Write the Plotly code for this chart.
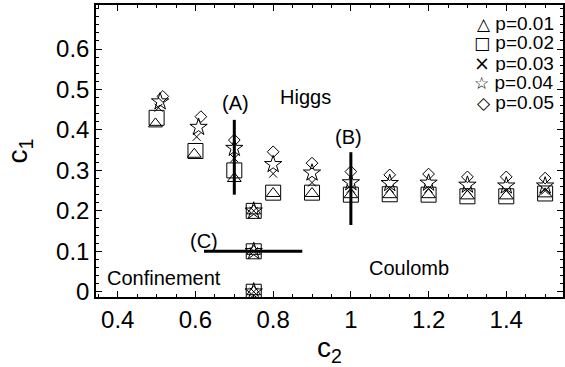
import plotly.graph_objects as go

# ---- data ----
p_labels = ["p=0.01", "p=0.02", "p=0.03", "p=0.04", "p=0.05"]
legend_glyphs = ["\u25B3", "\u25A1", "\u00D7", "\u2606", "\u25C7"]
legend_glyph_px = [17, 17, 19, 17, 17]
legend_glyph_font = ["DejaVu Sans", "DejaVu Sans", "DejaVu Sans ExtraLight, DejaVu Sans", "DejaVu Sans", "DejaVu Sans"]

c2_p01 = [0.497, 0.597, 0.70, 0.75, 0.75, 0.75, 0.80, 0.90, 1.00, 1.10, 1.20, 1.30, 1.40, 1.50]
c1_p01 = [0.415, 0.340, 0.280, 0.200, 0.100, 0.000, 0.243, 0.243, 0.240, 0.240, 0.240, 0.237, 0.237, 0.242]

c2_p02 = [0.500, 0.600, 0.70, 0.75, 0.75, 0.75, 0.80, 0.90, 1.00, 1.10, 1.20, 1.30, 1.40, 1.50]
c1_p02 = [0.430, 0.348, 0.300, 0.200, 0.100, 0.000, 0.245, 0.245, 0.240, 0.241, 0.240, 0.236, 0.236, 0.243]

c2_p03 = [0.505, 0.603, 0.70, 0.75, 0.75, 0.75, 0.80, 0.90, 1.00, 1.10, 1.20, 1.30, 1.40, 1.50]
c1_p03 = [0.455, 0.383, 0.330, 0.200, 0.100, 0.000, 0.292, 0.270, 0.255, 0.255, 0.255, 0.250, 0.250, 0.250]

c2_p04 = [0.509, 0.608, 0.70, 0.75, 0.75, 0.75, 0.80, 0.90, 1.00, 1.10, 1.20, 1.30, 1.40, 1.50]
c1_p04 = [0.470, 0.407, 0.355, 0.200, 0.100, 0.000, 0.315, 0.294, 0.270, 0.268, 0.269, 0.264, 0.262, 0.262]

c2_p05 = [0.516, 0.614, 0.70, 0.80, 0.90, 1.00, 1.10, 1.20, 1.30, 1.40, 1.50]
c1_p05 = [0.483, 0.433, 0.375, 0.346, 0.318, 0.297, 0.289, 0.291, 0.284, 0.284, 0.281]

# cut lines (A), (B), (C)
lineA_c2 = [0.70, 0.70]
lineA_c1 = [0.240, 0.425]
lineB_c2 = [1.00, 1.00]
lineB_c1 = [0.165, 0.345]
lineC_c2 = [0.622, 0.875]
lineC_c1 = [0.100, 0.100]

# region / cut labels
label_text = ["(A)", "Higgs", "(B)", "(C)", "Confinement", "Coulomb"]
label_c2 = [0.703, 0.884, 0.995, 0.623, 0.518, 1.149]
label_c1 = [0.467, 0.481, 0.383, 0.126, 0.035, 0.059]

x_ticks = [0.4, 0.6, 0.8, 1.0, 1.2, 1.4]
x_tick_text = ["0.4", "0.6", "0.8", "1", "1.2", "1.4"]
y_ticks = [0, 0.1, 0.2, 0.3, 0.4, 0.5, 0.6]
y_tick_text = ["0", "0.1", "0.2", "0.3", "0.4", "0.5", "0.6"]

FONT = "Liberation Sans, Arial, Helvetica, sans-serif"

series = [
    (c2_p01, c1_p01, "triangle-up-open", 12),
    (c2_p02, c1_p02, "square-open", 15),
    (c2_p03, c1_p03, "x-thin-open", 8),
    (c2_p04, c1_p04, "star-open", 13),
    (c2_p05, c1_p05, "diamond-open", 9),
]

fig = go.Figure()
for (xs, ys, sym, sz), name in zip(series, p_labels):
    fig.add_trace(go.Scatter(
        x=xs, y=ys, mode="markers", name=name, showlegend=False,
        marker=dict(symbol=sym, size=sz, color="black",
                    line=dict(color="black", width=1)),
    ))

for lx, ly in [(lineA_c2, lineA_c1), (lineB_c2, lineB_c1), (lineC_c2, lineC_c1)]:
    fig.add_trace(go.Scatter(x=lx, y=ly, mode="lines", showlegend=False,
                             line=dict(color="black", width=3)))

for t, x, y in zip(label_text, label_c2, label_c1):
    fig.add_annotation(x=x, y=y, text=t, showarrow=False,
                       font=dict(family=FONT, size=20, color="black"))

# legend drawn as text rows
legend_rows_px = [23, 43, 62, 82, 102]
for g, gpx, gf, name, ypx in zip(legend_glyphs, legend_glyph_px, legend_glyph_font, p_labels, legend_rows_px):
    fig.add_annotation(xref="paper", yref="paper",
                       x=(557 - 96) / (565 - 96), y=(297 - ypx) / 292,
                       xanchor="right", yanchor="middle",
                       height=19, borderpad=0,
                       text='<span style="font-family:%s;font-size:%dpx;color:black">%s</span> %s' % (gf, gpx, g, name),
                       showarrow=False,
                       font=dict(family=FONT, size=19, color="black"))

axis_common = dict(
    showline=True, linecolor="black", linewidth=1.5, mirror="ticks",
    ticks="inside", ticklen=6, tickwidth=1, tickcolor="black",
    showgrid=False, zeroline=False,
    tickfont=dict(family=FONT, size=24, color="black"),
)

fig.update_xaxes(
    range=[0.344, 1.546], tickvals=x_ticks, ticktext=x_tick_text,
    minor=dict(ticks="inside", dtick=0.05, tick0=0, ticklen=3, tickcolor="black", showgrid=False),
    title=dict(text="c<sub>2</sub>", font=dict(family=FONT, size=28, color="black"), standoff=6),
    **axis_common,
)
fig.update_yaxes(
    range=[-0.013, 0.709], tickvals=y_ticks, ticktext=y_tick_text,
    minor=dict(ticks="inside", dtick=0.02, tick0=0, ticklen=3, tickcolor="black", showgrid=False),
    title=dict(text="c<sub>1</sub>", font=dict(family=FONT, size=28, color="black"), standoff=20),
    **axis_common,
)

fig.update_layout(
    width=565, height=367,
    margin=dict(l=96, r=0, t=5, b=70),
    paper_bgcolor="white", plot_bgcolor="white",
    font=dict(family=FONT, color="black"),
)

fig.write_html("out.html")
